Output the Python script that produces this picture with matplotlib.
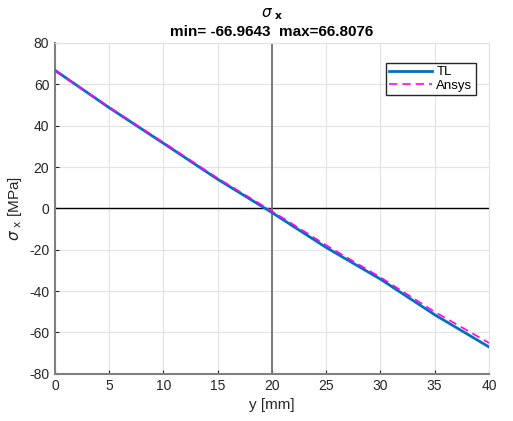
import matplotlib
matplotlib.use("Agg")
import matplotlib.pyplot as plt

plt.rcParams['font.family'] = ['Liberation Sans', 'DejaVu Sans']
plt.rcParams['axes.unicode_minus'] = False

# sigma_x along y
y_tl = [0, 5, 10, 15, 20, 25, 30, 35, 40]
sx_tl = [66.8076, 48.7, 31.5, 14.1, -2.0, -18.9, -34.2, -51.4, -66.9643]

y_ansys = [0, 5, 10, 15, 20, 25, 30, 35, 40]
sx_ansys = [66.6, 49.0, 31.9, 14.6, -1.3, -17.8, -33.3, -50.0, -65.0]

xticks = [0, 5, 10, 15, 20, 25, 30, 35, 40]
yticks = [-80, -60, -40, -20, 0, 20, 40, 60, 80]

fig = plt.figure(figsize=(5.13, 4.21), dpi=100)
ax = fig.add_axes([0.107, 0.112, 0.846, 0.786])

ax.grid(True, color='#e3e3e3', lw=0.8)
ax.set_axisbelow(True)

ax.axhline(0, color='black', lw=1, zorder=2)
ax.axvline(20, color='#707070', lw=1.3, zorder=2)

ax.plot(y_tl, sx_tl, color='#0072BD', lw=2, label='TL', zorder=3)
ax.plot(y_ansys, sx_ansys, color='#FF00FF', lw=1.2, ls=(0, (5, 3)), label='Ansys', zorder=4)

ax.set_xlim(0, 40)
ax.set_ylim(-80, 80)
ax.set_xticks(xticks)
ax.set_yticks(yticks)
ax.tick_params(direction='in', length=3, labelsize=10, colors='#262626', pad=4)

for s in ['left', 'bottom']:
    ax.spines[s].set_color('#808080')
    ax.spines[s].set_linewidth(1.5)
for s in ['top', 'right']:
    ax.spines[s].set_color('#e3e3e3')
    ax.spines[s].set_linewidth(0.8)

ax.set_xlabel('y [mm]', fontsize=11, color='#262626', labelpad=3)
ax.set_ylabel(r'$\sigma$$_{\ \mathrm{x}}$ [MPa]', fontsize=11, color='#262626', labelpad=4)
ax.set_title('$\\sigma$$_{\\ \\mathbf{x}}$\nmin= -66.9643  max=66.8076',
             fontsize=11, fontweight='bold', color='black', pad=5, linespacing=1.25)

leg = ax.legend(loc='upper right', bbox_to_anchor=(0.97, 0.94), fontsize=9.5,
                fancybox=False, framealpha=1, edgecolor='#262626',
                handlelength=3.3, handletextpad=0.3, borderpad=0.25, labelspacing=0.1,
                borderaxespad=0)
leg.get_frame().set_linewidth(1)

fig.savefig('out.png', dpi=100)
